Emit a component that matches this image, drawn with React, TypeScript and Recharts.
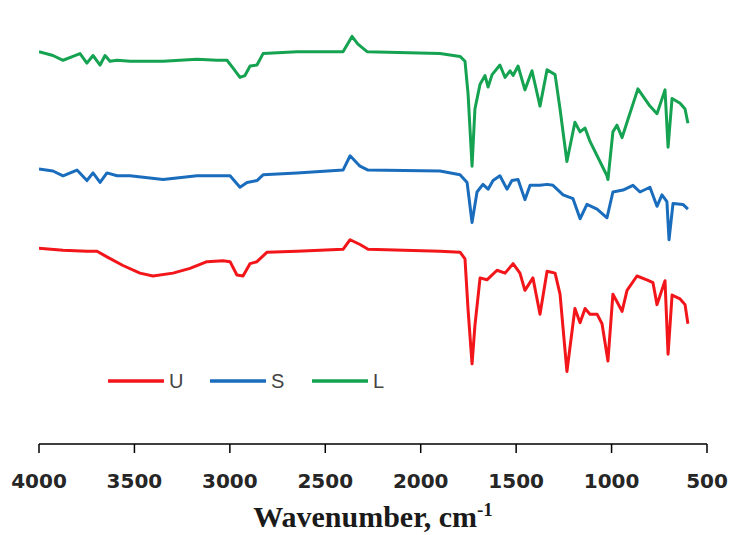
import React from 'react';
import { LineChart, Line, XAxis, YAxis, Legend } from 'recharts';

// FTIR spectra, values (arbitrary transmittance units, stacked)
const wavenumberTicks = [4000, 3500, 3000, 2500, 2000, 1500, 1000, 500];
const legendOrder = ['U', 'S', 'L'];

const spectrumU = [
  { wn: 4000, t: 205 }, { wn: 3874, t: 203 }, { wn: 3749, t: 202 }, { wn: 3696, t: 202 },
  { wn: 3644, t: 196 }, { wn: 3560, t: 187 }, { wn: 3471, t: 179 }, { wn: 3403, t: 176 },
  { wn: 3298, t: 179 }, { wn: 3209, t: 184 }, { wn: 3120, t: 191 }, { wn: 3036, t: 192 },
  { wn: 2999, t: 191 }, { wn: 2963, t: 177 }, { wn: 2931, t: 176 }, { wn: 2894, t: 189 },
  { wn: 2858, t: 191 }, { wn: 2805, t: 201 }, { wn: 2648, t: 202 }, { wn: 2407, t: 204 },
  { wn: 2370, t: 214 }, { wn: 2318, t: 209 }, { wn: 2276, t: 204 }, { wn: 1899, t: 202 },
  { wn: 1794, t: 201 }, { wn: 1768, t: 194 }, { wn: 1752, t: 141 }, { wn: 1731, t: 84 },
  { wn: 1716, t: 124 }, { wn: 1689, t: 174 }, { wn: 1653, t: 172 }, { wn: 1600, t: 182 },
  { wn: 1558, t: 179 }, { wn: 1516, t: 189 }, { wn: 1480, t: 179 }, { wn: 1454, t: 161 },
  { wn: 1412, t: 174 }, { wn: 1375, t: 136 }, { wn: 1338, t: 181 }, { wn: 1296, t: 179 },
  { wn: 1270, t: 157 }, { wn: 1234, t: 76 }, { wn: 1192, t: 142 }, { wn: 1165, t: 127 },
  { wn: 1139, t: 142 }, { wn: 1113, t: 136 }, { wn: 1076, t: 136 }, { wn: 1050, t: 126 },
  { wn: 1019, t: 87 }, { wn: 993, t: 157 }, { wn: 945, t: 139 }, { wn: 919, t: 161 },
  { wn: 867, t: 176 }, { wn: 815, t: 172 }, { wn: 783, t: 169 }, { wn: 762, t: 146 },
  { wn: 720, t: 171 }, { wn: 704, t: 94 }, { wn: 683, t: 156 }, { wn: 641, t: 152 },
  { wn: 615, t: 146 }, { wn: 600, t: 126 },
];

const spectrumS = [
  { wn: 4000, t: 288 }, { wn: 3927, t: 286 }, { wn: 3874, t: 281 }, { wn: 3801, t: 287 },
  { wn: 3749, t: 276 }, { wn: 3717, t: 284 }, { wn: 3680, t: 274 }, { wn: 3644, t: 284 },
  { wn: 3591, t: 281 }, { wn: 3523, t: 281 }, { wn: 3350, t: 277 }, { wn: 3172, t: 281 },
  { wn: 3052, t: 281 }, { wn: 2999, t: 281 }, { wn: 2947, t: 269 }, { wn: 2910, t: 274 },
  { wn: 2858, t: 276 }, { wn: 2826, t: 282 }, { wn: 2648, t: 284 }, { wn: 2407, t: 287 },
  { wn: 2370, t: 302 }, { wn: 2318, t: 291 }, { wn: 2276, t: 287 }, { wn: 1899, t: 286 },
  { wn: 1794, t: 282 }, { wn: 1757, t: 274 }, { wn: 1731, t: 232 }, { wn: 1705, t: 264 },
  { wn: 1674, t: 272 }, { wn: 1647, t: 267 }, { wn: 1621, t: 276 }, { wn: 1585, t: 281 },
  { wn: 1548, t: 267 }, { wn: 1522, t: 276 }, { wn: 1490, t: 277 }, { wn: 1454, t: 256 },
  { wn: 1427, t: 271 }, { wn: 1375, t: 271 }, { wn: 1338, t: 272 }, { wn: 1307, t: 271 },
  { wn: 1254, t: 261 }, { wn: 1202, t: 257 }, { wn: 1165, t: 236 }, { wn: 1129, t: 251 },
  { wn: 1076, t: 246 }, { wn: 1024, t: 237 }, { wn: 993, t: 264 }, { wn: 940, t: 266 },
  { wn: 888, t: 271 }, { wn: 851, t: 264 }, { wn: 799, t: 269 }, { wn: 762, t: 249 },
  { wn: 736, t: 261 }, { wn: 710, t: 254 }, { wn: 699, t: 214 }, { wn: 678, t: 252 },
  { wn: 626, t: 251 }, { wn: 600, t: 246 },
];

const spectrumL = [
  { wn: 4000, t: 411 }, { wn: 3927, t: 407 }, { wn: 3874, t: 402 }, { wn: 3822, t: 406 },
  { wn: 3785, t: 409 }, { wn: 3749, t: 399 }, { wn: 3717, t: 407 }, { wn: 3680, t: 397 },
  { wn: 3654, t: 407 }, { wn: 3628, t: 401 }, { wn: 3591, t: 402 }, { wn: 3523, t: 401 },
  { wn: 3350, t: 401 }, { wn: 3172, t: 403 }, { wn: 3067, t: 402 }, { wn: 3015, t: 402 },
  { wn: 2984, t: 394 }, { wn: 2947, t: 384 }, { wn: 2921, t: 386 }, { wn: 2894, t: 396 },
  { wn: 2858, t: 397 }, { wn: 2826, t: 409 }, { wn: 2648, t: 411 }, { wn: 2407, t: 411 },
  { wn: 2360, t: 427 }, { wn: 2329, t: 419 }, { wn: 2281, t: 411 }, { wn: 1899, t: 409 },
  { wn: 1794, t: 406 }, { wn: 1768, t: 401 }, { wn: 1752, t: 367 }, { wn: 1731, t: 291 },
  { wn: 1716, t: 351 }, { wn: 1689, t: 377 }, { wn: 1663, t: 386 }, { wn: 1647, t: 374 },
  { wn: 1626, t: 387 }, { wn: 1585, t: 397 }, { wn: 1558, t: 384 }, { wn: 1532, t: 391 },
  { wn: 1516, t: 386 }, { wn: 1490, t: 396 }, { wn: 1454, t: 371 }, { wn: 1417, t: 391 },
  { wn: 1375, t: 354 }, { wn: 1338, t: 392 }, { wn: 1296, t: 387 }, { wn: 1270, t: 351 },
  { wn: 1234, t: 296 }, { wn: 1192, t: 337 }, { wn: 1165, t: 327 }, { wn: 1139, t: 331 },
  { wn: 1113, t: 317 }, { wn: 1024, t: 281 }, { wn: 1019, t: 277 }, { wn: 993, t: 327 },
  { wn: 972, t: 334 }, { wn: 945, t: 321 }, { wn: 919, t: 337 }, { wn: 862, t: 372 },
  { wn: 799, t: 354 }, { wn: 762, t: 346 }, { wn: 720, t: 371 }, { wn: 704, t: 311 },
  { wn: 683, t: 362 }, { wn: 641, t: 357 }, { wn: 615, t: 351 }, { wn: 600, t: 336 },
];

const RED = '#f2161b';
const BLUE = '#1a6dbd';
const GREEN = '#15a352';

const SpectraLegend = ({ payload }: any) => {
  const items = [...(payload || [])].sort(
    (a: any, b: any) => legendOrder.indexOf(a.value) - legendOrder.indexOf(b.value)
  );
  return (
    <div style={{ display: 'flex', fontFamily: 'Liberation Sans, Arial, sans-serif', fontSize: 20, color: '#444' }}>
      {items.map((item: any) => (
        <div key={item.value} style={{ display: 'flex', alignItems: 'center', width: 102 }}>
          <svg width={58} height={8}>
            <line x1={0} y1={4} x2={56} y2={4} stroke={item.color} strokeWidth={3.5} />
          </svg>
          <span style={{ marginLeft: 3, lineHeight: '20px' }}>{item.value}</span>
        </div>
      ))}
    </div>
  );
};

const AxisTitle = ({ viewBox }: any) => {
  const cx = viewBox.x + viewBox.width / 2;
  const y = viewBox.y + viewBox.height;
  return (
    <text x={cx} y={y} textAnchor="middle" fontFamily="Liberation Serif, Times New Roman, serif"
      fontWeight="bold" fontSize={30} fill="#1a1a1a">
      <tspan>Wavenumber, cm</tspan>
      <tspan dy={-11} fontSize={19}>-1</tspan>
    </text>
  );
};

export default function App() {
  return (
    <div style={{ position: 'absolute', left: 0, top: 0, background: '#fff' }}>
      <LineChart width={729} height={535} margin={{ top: 4, right: 22, bottom: 8, left: 39 }}>
        <XAxis
          type="number"
          dataKey="wn"
          domain={[500, 4000]}
          reversed
          ticks={wavenumberTicks}
          allowDataOverflow
          height={83}
          tickSize={9}
          tickMargin={21}
          axisLine={{ stroke: '#000', strokeWidth: 1.5 }}
          tickLine={{ stroke: '#000', strokeWidth: 1.5 }}
          tick={{ fontFamily: 'DejaVu Sans, sans-serif', fontSize: 20, fontWeight: 'bold', fill: '#262626' }}
          label={{ content: (p: any) => <AxisTitle {...p} /> }}
        />
        <YAxis hide type="number" domain={[0, 440]} />
        <Legend
          content={<SpectraLegend />}
          layout="horizontal"
          verticalAlign="top"
          align="left"
          wrapperStyle={{ left: 108, top: 371, width: 320 }}
        />
        <Line data={spectrumU} dataKey="t" name="U" type="linear" stroke={RED} strokeWidth={3}
          dot={false} isAnimationActive={false} strokeLinejoin="round" />
        <Line data={spectrumS} dataKey="t" name="S" type="linear" stroke={BLUE} strokeWidth={3}
          dot={false} isAnimationActive={false} strokeLinejoin="round" />
        <Line data={spectrumL} dataKey="t" name="L" type="linear" stroke={GREEN} strokeWidth={3}
          dot={false} isAnimationActive={false} strokeLinejoin="round" />
      </LineChart>
    </div>
  );
}
